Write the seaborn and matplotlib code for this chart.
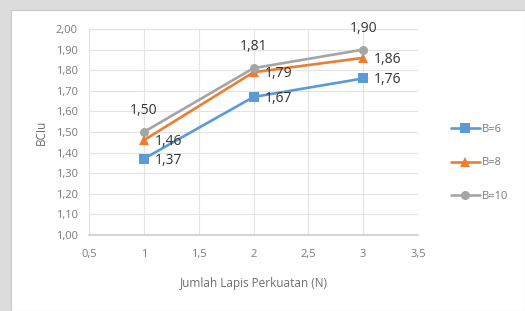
import matplotlib
matplotlib.use("Agg")
import matplotlib.pyplot as plt
import seaborn as sns
import pandas as pd
from matplotlib.patches import Rectangle
from matplotlib.ticker import FuncFormatter, MultipleLocator

n_layers = [1, 2, 3]
b6 = [1.37, 1.67, 1.76]
b8 = [1.46, 1.79, 1.86]
b10 = [1.50, 1.81, 1.90]
series_names = ["B=6", "B=8", "B=10"]

df = pd.DataFrame({
    "N": n_layers * 3,
    "BCIu": b6 + b8 + b10,
    "Series": [series_names[0]] * 3 + [series_names[1]] * 3 + [series_names[2]] * 3,
})

sns.set_theme(style="white")
plt.rcParams['font.family'] = ['Open Sans', 'DejaVu Sans']

fig = plt.figure(figsize=(5.25, 3.11), dpi=100, facecolor="#dcdcdc")
bg = Rectangle((11/525, 0), 1 - 11/525, 1 - 10/311, transform=fig.transFigure,
               facecolor="white", edgecolor="#c8c8c8", linewidth=0.8, zorder=-10)
fig.add_artist(bg)
ax = fig.add_axes([89/525, 1 - 235/311, (418 - 89)/525, (235 - 29)/311])
ax.set_zorder(1)
ax.set_facecolor("white")

palette = {"B=6": "#5B9BD5", "B=8": "#ED7D31", "B=10": "#A5A5A5"}
markers = {"B=6": "s", "B=8": "^", "B=10": "o"}
sns.lineplot(data=df, x="N", y="BCIu", hue="Series", style="Series", palette=palette,
             markers=markers, dashes=False, markersize=6.5, linewidth=1.9,
             markeredgewidth=0, ax=ax, legend=True)

ax.set_xlim(0.5, 3.5)
ax.set_ylim(1.0, 2.0)
ax.xaxis.set_major_locator(MultipleLocator(0.5))
ax.yaxis.set_major_locator(MultipleLocator(0.1))
ax.xaxis.set_major_formatter(FuncFormatter(lambda v, p: (f"{v:g}").replace(".", ",")))
ax.yaxis.set_major_formatter(FuncFormatter(lambda v, p: f"{v:.2f}".replace(".", ",")))
ax.grid(True, color="#e3e3e3", linewidth=0.8)
for s in ["top", "right", "left"]:
    ax.spines[s].set_visible(False)
ax.spines["bottom"].set_color("#d0d0d0")
ax.tick_params(axis="both", labelsize=8, colors="#7a7a7a", length=0)
ax.tick_params(axis="y", pad=8)
ax.tick_params(axis="x", pad=10)
ax.set_xlabel("Jumlah Lapis Perkuatan (N)", fontsize=8.5, color="#6e6e6e", labelpad=12)
ax.set_ylabel("BCIu", fontsize=8.5, color="#6e6e6e", labelpad=6)

lab_kw = dict(fontsize=10, color="#333333")
for x, y in zip(n_layers, b10):
    ax.annotate(f"{y:.2f}".replace(".", ","), (x, y), xytext=(0, 10), textcoords="offset points",
                ha="center", va="bottom", **lab_kw)
for x, y in zip(n_layers, b8):
    ax.annotate(f"{y:.2f}".replace(".", ","), (x, y), xytext=(8, -1), textcoords="offset points",
                ha="left", va="center", **lab_kw)
for x, y in zip(n_layers, b6):
    ax.annotate(f"{y:.2f}".replace(".", ","), (x, y), xytext=(8, -1), textcoords="offset points",
                ha="left", va="center", **lab_kw)

leg = ax.legend(loc="center left", bbox_to_anchor=(1.07, 0.35), frameon=False, fontsize=8,
                labelspacing=2.0, handlelength=2.6, handletextpad=0.2, title=None)
for t in leg.get_texts():
    t.set_color("#7a7a7a")

fig.savefig("out.png", dpi=100, facecolor=fig.get_facecolor())
